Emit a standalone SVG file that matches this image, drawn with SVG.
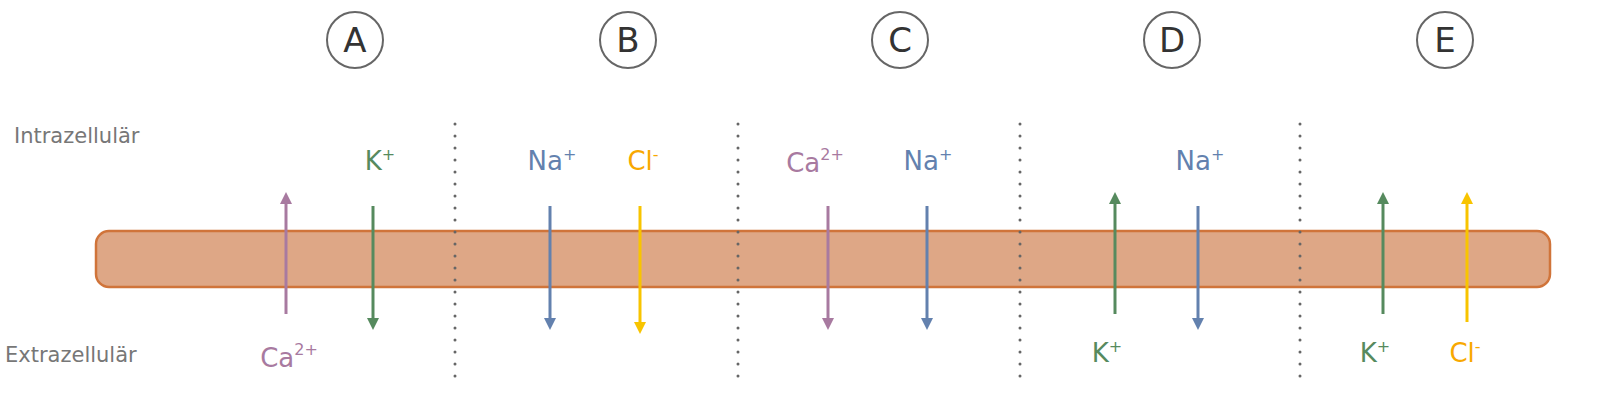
<svg xmlns="http://www.w3.org/2000/svg" width="1600" height="414" viewBox="0 0 1600 414">
<style>
text{font-family:"DejaVu Sans","Liberation Sans",sans-serif}
.lbl{font-size:26px;text-anchor:middle}
.side{font-size:21px;fill:#777}
.circ{fill:none;stroke:#666;stroke-width:2}
.let{font-size:34px;fill:#333;text-anchor:middle}
.div{stroke:#666;stroke-width:3;stroke-dasharray:0 12;stroke-linecap:round}
.p{fill:#a87aa0;stroke:#a87aa0}.g{fill:#568a5e;stroke:#568a5e}.b{fill:#6381ae;stroke:#6381ae}.y{fill:#f8c400;stroke:#f8c400}
line.a{stroke-width:3}
sup,tspan.s{font-size:16px}
</style>
<defs>
<marker id="mp" viewBox="0 0 10 10" refX="5" refY="5" markerWidth="4" markerHeight="6" orient="auto" markerUnits="strokeWidth"><path d="M0,0L10,5L0,10z" fill="#a87aa0"/></marker>
<marker id="mg" viewBox="0 0 10 10" refX="5" refY="5" markerWidth="4" markerHeight="6" orient="auto" markerUnits="strokeWidth"><path d="M0,0L10,5L0,10z" fill="#568a5e"/></marker>
<marker id="mb" viewBox="0 0 10 10" refX="5" refY="5" markerWidth="4" markerHeight="6" orient="auto" markerUnits="strokeWidth"><path d="M0,0L10,5L0,10z" fill="#6381ae"/></marker>
<marker id="my" viewBox="0 0 10 10" refX="5" refY="5" markerWidth="4" markerHeight="6" orient="auto" markerUnits="strokeWidth"><path d="M0,0L10,5L0,10z" fill="#f8c400"/></marker>
</defs>
<rect id="membrane" x="96" y="231" width="1454" height="56" rx="13" fill="#dea786" stroke="#d0743a" stroke-width="2.5"/>
<text class="side" x="14" y="143">Intrazellulär</text>
<text class="side" x="5" y="362">Extrazellulär</text>
<g id="dividers">
<line class="div" x1="455" y1="124" x2="455" y2="380"/>
<line class="div" x1="738" y1="124" x2="738" y2="380"/>
<line class="div" x1="1020" y1="124" x2="1020" y2="380"/>
<line class="div" x1="1300" y1="124" x2="1300" y2="380"/>
</g>
<g id="A"><circle class="circ" cx="355" cy="40" r="28"/><text class="let" x="355" y="52">A</text></g>
<g id="B"><circle class="circ" cx="628" cy="40" r="28"/><text class="let" x="628" y="52">B</text></g>
<g id="C"><circle class="circ" cx="900" cy="40" r="28"/><text class="let" x="900" y="52">C</text></g>
<g id="D"><circle class="circ" cx="1172" cy="40" r="28"/><text class="let" x="1172" y="52">D</text></g>
<g id="E"><circle class="circ" cx="1445" cy="40" r="28"/><text class="let" x="1445" y="52">E</text></g>
<g id="connectors">
<line class="a p" x1="286" y1="314" x2="286" y2="198" marker-end="url(#mp)"/>
<line class="a g" x1="373" y1="206" x2="373" y2="324" marker-end="url(#mg)"/>
<line class="a b" x1="550" y1="206" x2="550" y2="324" marker-end="url(#mb)"/>
<line class="a y" x1="640" y1="206" x2="640" y2="328" marker-end="url(#my)"/>
<line class="a p" x1="828" y1="206" x2="828" y2="324" marker-end="url(#mp)"/>
<line class="a b" x1="927" y1="206" x2="927" y2="324" marker-end="url(#mb)"/>
<line class="a g" x1="1115" y1="314" x2="1115" y2="198" marker-end="url(#mg)"/>
<line class="a b" x1="1198" y1="206" x2="1198" y2="324" marker-end="url(#mb)"/>
<line class="a g" x1="1383" y1="314" x2="1383" y2="198" marker-end="url(#mg)"/>
<line class="a y" x1="1467" y1="322" x2="1467" y2="198" marker-end="url(#my)"/>
</g>
<g id="labels" stroke="none">
<text class="lbl" x="380" y="170" fill="#568a5e">K<tspan class="s" dy="-10">+</tspan></text>
<text class="lbl" x="289" y="367" fill="#a87aa0">Ca<tspan class="s" dy="-12">2+</tspan></text>
<text class="lbl" x="552" y="170" fill="#6381ae">Na<tspan class="s" dy="-10">+</tspan></text>
<text class="lbl" x="643" y="170" fill="#f8a800">Cl<tspan class="s" dy="-10">-</tspan></text>
<text class="lbl" x="815" y="172" fill="#a87aa0">Ca<tspan class="s" dy="-12">2+</tspan></text>
<text class="lbl" x="928" y="170" fill="#6381ae">Na<tspan class="s" dy="-10">+</tspan></text>
<text class="lbl" x="1107" y="362" fill="#568a5e">K<tspan class="s" dy="-10">+</tspan></text>
<text class="lbl" x="1200" y="170" fill="#6381ae">Na<tspan class="s" dy="-10">+</tspan></text>
<text class="lbl" x="1375" y="362" fill="#568a5e">K<tspan class="s" dy="-10">+</tspan></text>
<text class="lbl" x="1465" y="362" fill="#f8a800">Cl<tspan class="s" dy="-10">-</tspan></text>
</g>
</svg>
